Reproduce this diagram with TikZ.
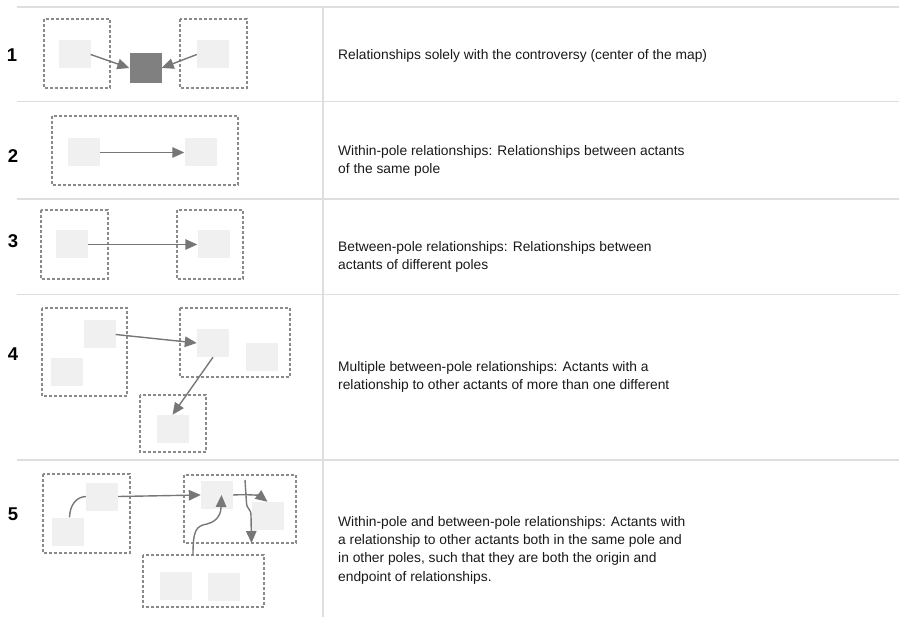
\documentclass[tikz,border=0pt]{standalone}
\usepackage{fontspec}
\setmainfont{Liberation Sans}
\usetikzlibrary{arrows.meta}
\definecolor{rulegray}{HTML}{DEDEDE}
\definecolor{polegray}{HTML}{8A8A8A}
\definecolor{actantgray}{HTML}{F0F0F0}
\definecolor{centergray}{HTML}{808080}
\definecolor{linkgray}{HTML}{777777}
\begin{document}
\begin{tikzpicture}[x=1pt,y=-1pt,
  rule/.style={rulegray,line width=1.5pt},
  pole/.style={polegray,line width=1.1pt,dash pattern=on 3pt off 2pt},
  actant/.style={fill=actantgray,inner sep=0pt,minimum width=32pt,minimum height=28pt},
  link/.style={linkgray,line width=1.4pt,-{Triangle[length=12pt,width=10.5pt]}},
  num/.style={font=\bfseries\fontsize{18.5}{20}\selectfont},
  desc/.style={anchor=west,align=left,inner sep=0pt,text=black!90,font=\fontsize{13.8}{18.3}\selectfont}]
  \useasboundingbox (0,0) rectangle (899,617);

  % table lines
  \draw[rule] (17,7) -- (899,7);
  \draw[rule] (17,101.5) -- (899,101.5);
  \draw[rule] (17,199) -- (899,199);
  \draw[rule] (17,294.5) -- (899,294.5);
  \draw[rule] (17,460) -- (899,460);
  \draw[rule] (323,7) -- (323,617);

  % row 1
  \node[num] (n1) at (12,55) {1};
  \draw[pole] (44,19) rectangle (110,88);
  \draw[pole] (180,19) rectangle (247,88);
  \node[actant] (r1l) at (74.5,54.5) {};
  \node[actant] (r1r) at (213,54.5) {};
  \node[actant,fill=centergray,minimum height=30pt] (r1c) at (145.5,68) {};
  \draw[link] (r1l.east) -- (r1c.west);
  \draw[link] (r1r.west) -- (r1c.east);
  \node[desc] (t1) at (338,56) {Relationships solely with the controversy (center of the map)};

  % row 2
  \node[num] (n2) at (13,156) {2};
  \draw[pole] (52,116) rectangle (238,185);
  \node[actant] (r2a) at (83.5,152.5) {};
  \node[actant] (r2b) at (200.5,152.5) {};
  \draw[link] (r2a.east) -- (r2b.west);
  \node[desc] (t2) at (338,161) {Within-pole relationships: Relationships between actants\\of the same pole};

  % row 3
  \node[num] (n3) at (13,241) {3};
  \draw[pole] (41,210) rectangle (108,279);
  \draw[pole] (177,210) rectangle (243,279);
  \node[actant] (r3a) at (71.5,244.5) {};
  \node[actant] (r3b) at (213.5,244.5) {};
  \draw[link] (r3a.east) -- (r3b.west);
  \node[desc] (t3) at (338,257) {Between-pole relationships: Relationships between\\actants of different poles};

  % row 4
  \node[num] (n4) at (13,354) {4};
  \draw[pole] (42,308) rectangle (127,396);
  \draw[pole] (180,308) rectangle (290,377);
  \draw[pole] (140,395) rectangle (206,452);
  \node[actant] (r4a1) at (99.5,334.5) {};
  \node[actant] (r4a2) at (66.5,372) {};
  \node[actant] (r4b1) at (213,343) {};
  \node[actant] (r4b2) at (262,357) {};
  \node[actant] (r4c1) at (172.5,429) {};
  \draw[link] (r4a1.east) -- (r4b1.west);
  \draw[link] (r4b1.south) -- (r4c1.north);
  \node[desc] (t4) at (338,377) {Multiple between-pole relationships: Actants with a\\relationship to other actants of more than one different};

  % row 5
  \node[num] (n5) at (13,514) {5};
  \draw[pole] (43,474) rectangle (130,553);
  \draw[pole] (184,475) rectangle (296,543);
  \draw[pole] (143,555) rectangle (264,607);
  \node[actant] (r5a1) at (102,496.5) {};
  \node[actant] (r5a2) at (68,531.5) {};
  \node[actant] (r5b1) at (217,495) {};
  \node[actant] (r5b2) at (267.5,516) {};
  \node[actant] (r5c1) at (176,585.5) {};
  \node[actant] (r5c2) at (224,586.5) {};
  \coordinate (r5vtop) at (245,480);
  \coordinate (r5vbot) at (251.5,543);
  \coordinate (r5ctop) at (193,555);
  \coordinate (r5tip) at ([xshift=4.5pt]r5b1.center);
  \draw[link,-] ([xshift=1.5pt]r5a2.north) .. controls (70,505) and (76,497) .. (r5a1.west);
  \draw[link] (r5a1.east) -- (r5b1.west);
  \draw[link] (r5b1.east) .. controls (250,494) and (260,496) .. (r5b2.north);
  \draw[link] (r5vtop) -- (246.5,503) .. controls (247,510) and (251,508) .. (251,516) -- (r5vbot);
  \draw[link] (r5ctop) .. controls (193,530) and (196,526) .. (207,524)
    .. controls (219,521) and (221,512) .. (r5tip);
  \node[desc] (t5) at (338,550) {Within-pole and between-pole relationships: Actants with\\a relationship to other actants both in the same pole and\\in other poles, such that they are both the origin and\\endpoint of relationships.};
\end{tikzpicture}
\end{document}
